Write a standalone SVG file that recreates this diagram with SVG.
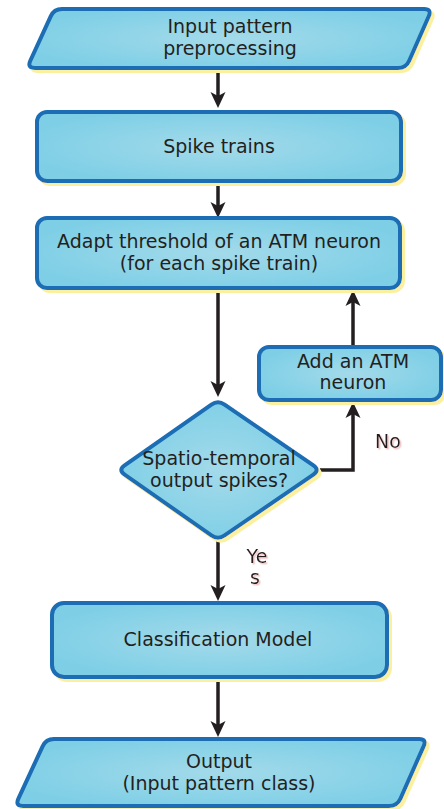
<svg xmlns="http://www.w3.org/2000/svg" width="444" height="809" viewBox="0 0 444 809">
<defs>
<radialGradient id="g" cx="50%" cy="50%" r="55%">
<stop offset="0" stop-color="#a3daea"/>
<stop offset="1" stop-color="#7ecfe6"/>
</radialGradient>
<filter id="sh" x="-5%" y="-10%" width="115%" height="130%">
<feDropShadow dx="3" dy="3" stdDeviation="0.6" flood-color="#fbf0a0" flood-opacity="1"/>
</filter>
<filter id="tsh" x="-20%" y="-20%" width="150%" height="150%">
<feDropShadow dx="1.5" dy="1.5" stdDeviation="0.5" flood-color="#f2b8b8" flood-opacity="0.9"/>
</filter>
<marker id="ah" viewBox="0 0 16 16" refX="4" refY="8" markerWidth="16" markerHeight="16" markerUnits="userSpaceOnUse" orient="auto">
<path d="M0,0.5 L16,8 L0,15.5 L4,8 z" fill="#231f20"/>
</marker>
</defs>
<style>
.n{fill:url(#g);stroke:#1a6db4;stroke-width:4;filter:url(#sh)}
.t{font-family:"DejaVu Sans","Verdana",sans-serif;font-size:19px;fill:#231f20;text-anchor:middle}
.c{fill:none;stroke:#231f20;stroke-width:3.5;marker-end:url(#ah)}
</style>
<g id="connectors">
<path class="c" d="M218,69 L218,96"/>
<path class="c" d="M218,181 L218,206"/>
<path class="c" d="M218,288 L218,385"/>
<path class="c" d="M353,347 L353,302"/>
<path class="c" d="M320,470 L353,470 L353,414" stroke-linejoin="miter"/>
<path class="c" d="M218,540 L218,589"/>
<path class="c" d="M218,677 L218,725"/>
</g>
<g id="input">
<path class="n" d="M62,9 L424,9 Q432,9 428.8,16.3 L409.2,60.7 Q406,68 398,68 L35,68 Q27,68 30.3,60.7 L50.7,16.3 Q54,9 62,9 Z"/>
<text class="t" x="230" y="33">Input pattern</text>
<text class="t" x="230" y="55">preprocessing</text>
</g>
<g id="spike">
<rect class="n" x="37" y="112" width="364" height="69" rx="10"/>
<text class="t" x="219" y="153">Spike trains</text>
</g>
<g id="adapt">
<rect class="n" x="37" y="218" width="363" height="70" rx="10"/>
<text class="t" x="219" y="248">Adapt threshold of an ATM neuron</text>
<text class="t" x="219" y="270">(for each spike train)</text>
</g>
<g id="add">
<rect class="n" x="259" y="347" width="182" height="53" rx="10"/>
<text class="t" x="353" y="368">Add an ATM</text>
<text class="t" x="353" y="389">neuron</text>
</g>
<g id="decision">
<path class="n" d="M211.4,404.6 Q218,400 224.6,404.6 L313.4,465.4 Q320,470 313.4,474.6 L224.6,535.4 Q218,540 211.4,535.4 L124.6,474.6 Q118,470 124.6,465.4 Z"/>
<text class="t" x="219" y="465">Spatio-temporal</text>
<text class="t" x="219" y="487">output spikes?</text>
</g>
<g id="labels">
<text class="t" x="388" y="448" filter="url(#tsh)">No</text>
<text class="t" x="257" y="563" filter="url(#tsh)">Ye</text>
<text class="t" x="255" y="584" filter="url(#tsh)">s</text>
</g>
<g id="classification">
<rect class="n" x="52" y="603" width="335" height="74" rx="12"/>
<text class="t" x="218" y="646">Classification Model</text>
</g>
<g id="output">
<path class="n" d="M54,739 L419,739 Q427,739 423.6,746.3 L400.4,798.7 Q397,806 389,806 L23,806 Q15,806 18.4,798.7 L42.6,746.3 Q46,739 54,739 Z"/>
<text class="t" x="219" y="768">Output</text>
<text class="t" x="219" y="790">(Input pattern class)</text>
</g>
</svg>
